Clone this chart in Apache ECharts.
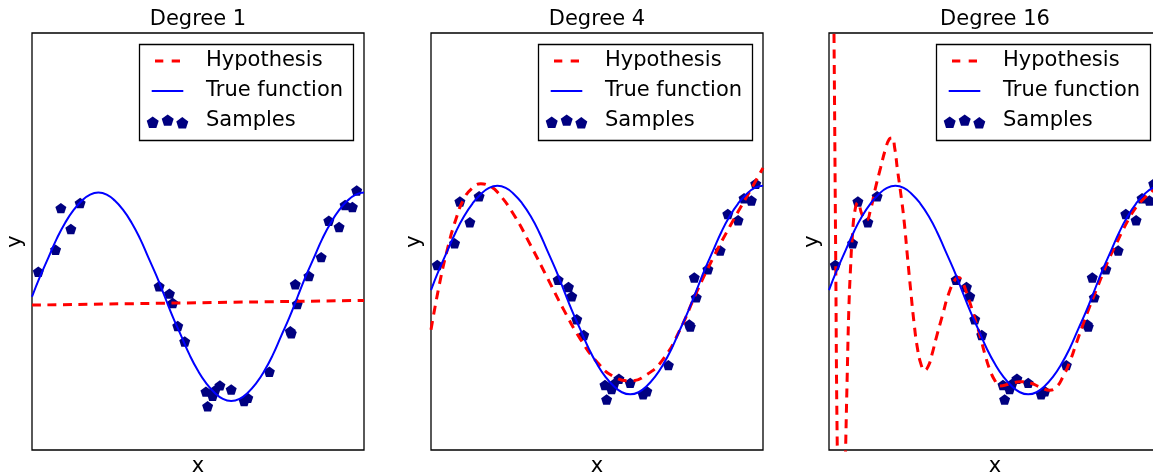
<!DOCTYPE html>
<html>
<head>
<meta charset="utf-8">
<script src="https://cdn.jsdelivr.net/npm/echarts@6/dist/echarts.min.js"></script>
<style>
  html, body { margin: 0; padding: 0; background: #fff; }
  #chart { width: 1153px; height: 474px; }
</style>
</head>
<body>
<div id="chart"></div>
<script>
const titles = ['Degree 1', 'Degree 4', 'Degree 16'];

// noisy samples (same in every panel)
const sampleX = [0.019, 0.071, 0.087, 0.117, 0.145, 0.383, 0.414, 0.424, 0.439, 0.460,
  0.524, 0.529, 0.544, 0.551, 0.566, 0.600, 0.639, 0.650, 0.715, 0.778,
  0.781, 0.793, 0.799, 0.834, 0.871, 0.894, 0.925, 0.943, 0.965, 0.978];
const sampleY = [0.24, 0.45, 0.85, 0.65, 0.90, 0.10, 0.03, -0.06, -0.28, -0.43,
  -0.91, -1.05, -0.95, -0.90, -0.85, -0.89, -1.00, -0.97, -0.72, -0.33,
  -0.35, 0.12, -0.07, 0.20, 0.38, 0.73, 0.67, 0.88, 0.86, 1.02];

// true function
const trueX = [0, 0.025, 0.05, 0.075, 0.1, 0.125, 0.15, 0.175, 0.2, 0.225,
  0.25, 0.275, 0.3, 0.325, 0.35, 0.375, 0.4, 0.425, 0.45, 0.475,
  0.5, 0.525, 0.55, 0.575, 0.6, 0.625, 0.65, 0.675, 0.7, 0.725,
  0.75, 0.775, 0.8, 0.825, 0.85, 0.875, 0.9, 0.925, 0.95, 0.975, 1];
const trueY = [0.00, 0.20, 0.38, 0.56, 0.71, 0.83, 0.92, 0.98, 1.00, 0.98,
  0.92, 0.83, 0.71, 0.56, 0.38, 0.20, 0.00, -0.20, -0.38, -0.56,
  -0.71, -0.83, -0.92, -0.98, -1.00, -0.98, -0.92, -0.83, -0.71, -0.56,
  -0.38, -0.20, 0.00, 0.20, 0.38, 0.56, 0.71, 0.83, 0.92, 0.98, 1.00];

// fitted hypotheses
const fit1X = [0, 1];
const fit1Y = [-0.08, -0.035];

const fit4X = [0, 0.025, 0.05, 0.075, 0.1, 0.125, 0.15, 0.175, 0.2, 0.25,
  0.3, 0.35, 0.4, 0.45, 0.5, 0.55, 0.6, 0.65, 0.7, 0.75,
  0.8, 0.85, 0.9, 0.95, 1];
const fit4Y = [-0.38, 0.05, 0.40, 0.68, 0.88, 0.98, 1.02, 1.00, 0.94, 0.72,
  0.43, 0.12, -0.19, -0.47, -0.69, -0.83, -0.87, -0.81, -0.66, -0.38,
  -0.02, 0.31, 0.61, 0.89, 1.17];

const fit16X = [0, 0.008, 0.015, 0.02, 0.025, 0.033, 0.042, 0.05, 0.055, 0.06,
  0.065, 0.07, 0.078, 0.087, 0.1, 0.113, 0.125, 0.14, 0.155, 0.17,
  0.182, 0.19, 0.198, 0.206, 0.216, 0.226, 0.236, 0.246, 0.256, 0.266,
  0.277, 0.288, 0.299, 0.31, 0.322, 0.342, 0.361, 0.38, 0.39, 0.4,
  0.417, 0.437, 0.455, 0.47, 0.484, 0.5, 0.514, 0.545, 0.575, 0.605,
  0.635, 0.665, 0.685, 0.705, 0.725, 0.745, 0.765, 0.785, 0.805, 0.825,
  0.845, 0.866, 0.886, 0.906, 0.926, 0.946, 0.976, 1];
const fit16Y = [9, 5, 2.47, 0.4, -1.53, -3.0, -2.8, -1.53, -0.80, -0.16,
  0.22, 0.50, 0.76, 0.84, 0.72, 0.67, 0.77, 0.98, 1.17, 1.35,
  1.45, 1.46, 1.36, 1.16, 0.93, 0.67, 0.33, 0.00, -0.31, -0.55,
  -0.71, -0.77, -0.73, -0.62, -0.47, -0.24, -0.03, 0.10, 0.12, 0.09,
  -0.05, -0.25, -0.44, -0.62, -0.76, -0.87, -0.92, -0.90, -0.88, -0.89,
  -0.93, -0.96, -0.93, -0.83, -0.69, -0.51, -0.33, -0.16, 0.00, 0.16,
  0.31, 0.45, 0.58, 0.70, 0.80, 0.87, 0.96, 1.05];

const fitX = [fit1X, fit4X, fit16X];
const fitY = [fit1Y, fit4Y, fit16Y];
const yMin = [-1.47, -1.534, -1.534];
const yMax = [2.53, 2.466, 2.466];

const font = 'DejaVu Sans';
const fontSize = 21;
const gridLeft = [32, 431, 829];
const gridTop = 33, gridW = 332, gridH = 417;
const pentagon = 'path://M0,-100L95.1,-30.9L58.8,80.9L-58.8,80.9L-95.1,-30.9Z';
const pairs = (xs, ys) => xs.map((x, i) => [x, ys[i]]);

const pentPoints = (cx, cy, r) => [0, 1, 2, 3, 4].map(k => {
  const a = -Math.PI / 2 + k * 2 * Math.PI / 5;
  return [cx + r * Math.cos(a), cy + r * Math.sin(a)];
});

const legendFor = (gl) => {
  const rows = [61, 91, 121];
  const labels = ['Hypothesis', 'True function', 'Samples'];
  const els = [
    {type: 'rect', shape: {x: gl + 107.5, y: 44.5, width: 214, height: 96},
      style: {fill: '#fff', stroke: '#000', lineWidth: 1.3}},
    {type: 'line', shape: {x1: gl + 123, y1: rows[0], x2: gl + 148, y2: rows[0]},
      style: {stroke: '#ff0000', lineWidth: 3, lineDash: [8.3, 8.4]}},
    {type: 'line', shape: {x1: gl + 119.7, y1: rows[1], x2: gl + 151.3, y2: rows[1]},
      style: {stroke: '#0000ff', lineWidth: 2}},
  ];
  [[120.7, 122.8], [135.7, 120.7], [150.3, 123.4]].forEach(([dx, y]) => {
    els.push({type: 'polygon', shape: {points: pentPoints(gl + dx, y, 6.3)},
      style: {fill: '#000080'}});
  });
  labels.forEach((t, i) => {
    els.push({type: 'text', x: gl + 174, y: rows[i],
      style: {text: t, font: fontSize + 'px "' + font + '"', fill: '#000', verticalAlign: 'middle'}});
  });
  return {type: 'group', z: 100, children: els};
};

const chart = echarts.init(document.getElementById('chart'));

const grids = [], xAxes = [], yAxes = [], series = [], title = [], graphic = [];
titles.forEach((t, i) => {
  const gl = gridLeft[i];
  grids.push({left: gl, top: gridTop, width: gridW, height: gridH, show: true,
    outerBoundsMode: 'none', containLabel: false,
    borderColor: '#000', borderWidth: 1.3, backgroundColor: 'transparent'});
  xAxes.push({gridIndex: i, type: 'value', min: 0, max: 1,
    axisLine: {show: false}, axisTick: {show: false}, axisLabel: {show: false}, splitLine: {show: false},
    name: 'x', nameLocation: 'middle', nameGap: 6.5,
    nameTextStyle: {fontFamily: font, fontSize: fontSize, color: '#000'}});
  yAxes.push({gridIndex: i, type: 'value', min: yMin[i], max: yMax[i],
    axisLine: {show: false}, axisTick: {show: false}, axisLabel: {show: false}, splitLine: {show: false},
    name: 'y', nameLocation: 'middle', nameGap: 5.5, nameRotate: 90,
    nameTextStyle: {fontFamily: font, fontSize: fontSize, color: '#000'}});
  title.push({text: t, left: gl + gridW / 2, top: 9, textAlign: 'center', padding: 0,
    textStyle: {fontFamily: font, fontSize: fontSize, fontWeight: 'normal', color: '#000'}});
  series.push({
    name: 'Hypothesis', type: 'line', xAxisIndex: i, yAxisIndex: i,
    data: pairs(fitX[i], fitY[i]), showSymbol: false, smooth: true,
    clip: true, animation: false,
    lineStyle: {color: '#ff0000', width: 3, type: [9, 6.5]}
  });
  series.push({
    name: 'True function', type: 'line', xAxisIndex: i, yAxisIndex: i,
    data: pairs(trueX, trueY), showSymbol: false, smooth: true,
    clip: true, animation: false,
    lineStyle: {color: '#0000ff', width: 2}
  });
  series.push({
    name: 'Samples', type: 'scatter', xAxisIndex: i, yAxisIndex: i,
    data: pairs(sampleX, sampleY), symbol: pentagon, symbolSize: 11, symbolKeepAspect: true,
    itemStyle: {color: '#000080', opacity: 1}, animation: false
  });
  graphic.push(legendFor(gl));
});

chart.setOption({
  backgroundColor: '#fff',
  animation: false,
  title,
  grid: grids,
  xAxis: xAxes,
  yAxis: yAxes,
  series,
  graphic
});
</script>
</body>
</html>
